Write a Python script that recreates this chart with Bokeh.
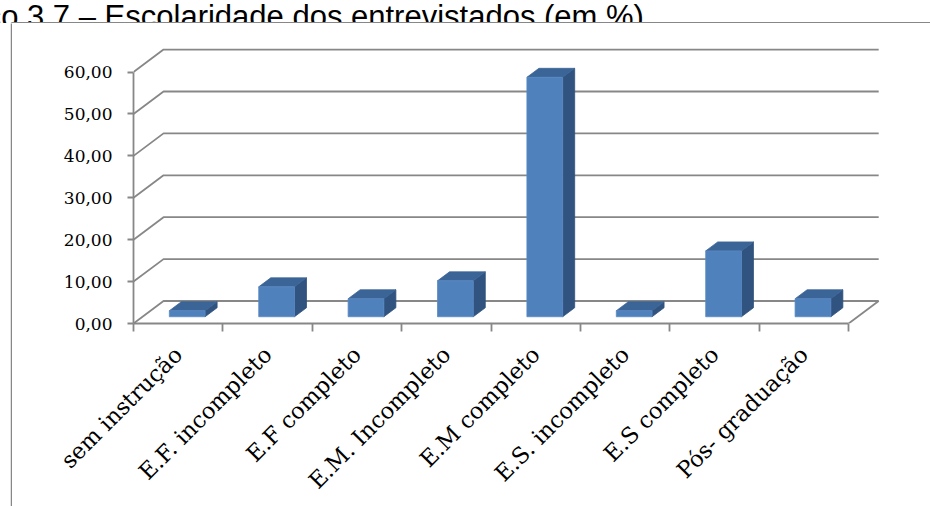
import math

from bokeh.core.properties import value
from bokeh.embed import file_html
from bokeh.layouts import column, row
from bokeh.models import FixedTicker, LinearAxis, Range1d
from bokeh.plotting import figure
from bokeh.resources import INLINE

# --- data -------------------------------------------------------------
categorias = [
    "sem instrução",
    "E.F. incompleto",
    "E.F completo",
    "E.M. Incompleto",
    "E.M completo",
    "E.S. incompleto",
    "E.S completo",
    "Pós- graduação",
]
percentuais = [1.43, 7.14, 4.29, 8.57, 57.14, 1.43, 15.71, 4.29]
marcas_y = [0, 10, 20, 30, 40, 50, 60]
rotulos_y = ["0,00", "10,00", "20,00", "30,00", "40,00", "50,00", "60,00"]
titulo = "Gráfico 3.7 – Escolaridade dos entrevistados (em %)."

# --- 3-D look: oblique projection of the depth axis (data units) ------
DX = 0.336          # depth shift along x, in category widths
DY = 5.37           # depth shift along y, in percentage points
X0, X1 = 0.3, 0.7   # bar span inside its category (gap width 150 %)
Z0, Z1 = 0.3, 0.7   # bar span along the depth axis

GRAY = "#878787"
FRONT = "#4f81bd"
TOP = "#3b6597"
SIDE = "#30537f"
SERIF = "DejaVu Serif"

W, H = 930, 506
TOP_H = 23      # strip holding the caption and the top edge of the box
LEFT_W = 12     # strip holding the left edge of the box


def strip(width, height):
    f = figure(
        width=width, height=height,
        output_backend="svg", toolbar_location=None,
        x_range=Range1d(0, width), y_range=Range1d(height, 0),
        x_axis_type=None, y_axis_type=None, min_border=0,
        frame_align=False,
    )
    f.outline_line_color = None
    f.background_fill_color = "white"
    f.border_fill_color = "white"
    return f


# caption (its upper part runs off the page) and top edge of the box
cab = strip(W, TOP_H)
cab.text(
    x=[652], y=[15.5], text=[titulo],
    text_align="right", text_baseline="alphabetic",
    text_font=value("Liberation Sans"), text_font_size="31px", text_color="black",
)
cab.multi_line(
    [[11, W + 5], [11, 11]], [[22.25, 22.25], [22.25, TOP_H + 1]],
    line_color=GRAY, line_width=1.5,
)

# left edge of the box
esq = strip(LEFT_W, H - TOP_H)
esq.line([11, 11], [-1, H], line_color=GRAY, line_width=1.5)

# --- main chart -------------------------------------------------------
n = len(categorias)
p = figure(
    width=W - LEFT_W, height=H - TOP_H,
    output_backend="svg", toolbar_location=None,
    x_range=Range1d(0, 8.58), y_range=Range1d(0, 67.54),
    x_axis_type=None, y_axis_type=None,
    min_border_left=133 - LEFT_W, min_border_right=30,
    min_border_top=40 - TOP_H, min_border_bottom=183,
    frame_align=False,
)
p.outline_line_color = None
p.background_fill_color = "white"
p.border_fill_color = "white"

# walls: side-wall diagonals and back-wall gridlines
gx, gy = [], []
for t in marcas_y:
    gx.append([0, DX, n + DX])
    gy.append([t, t + DY, t + DY])
# right edge of the floor
gx.append([n, n + DX])
gy.append([0, DY])
p.multi_line(gx, gy, line_color=GRAY, line_width=1.8)

# bars: side face, top face, front face
sx, sy, tx, ty, fx, fy = [], [], [], [], [], []
for i, v in enumerate(percentuais):
    a = i + X0
    b = i + X1
    fx.append([a + Z0 * DX, b + Z0 * DX, b + Z0 * DX, a + Z0 * DX])
    fy.append([Z0 * DY, Z0 * DY, v + Z0 * DY, v + Z0 * DY])
    tx.append([a + Z0 * DX, b + Z0 * DX, b + Z1 * DX, a + Z1 * DX])
    ty.append([v + Z0 * DY, v + Z0 * DY, v + Z1 * DY, v + Z1 * DY])
    sx.append([b + Z0 * DX, b + Z1 * DX, b + Z1 * DX, b + Z0 * DX])
    sy.append([Z0 * DY, Z1 * DY, v + Z1 * DY, v + Z0 * DY])

p.patches(sx, sy, fill_color=SIDE, line_color=SIDE, line_width=0.8)
p.patches(tx, ty, fill_color=TOP, line_color=TOP, line_width=0.8)
p.patches(fx, fy, fill_color=FRONT, line_color="#5a8ac4", line_width=0.8)

# value axis
yaxis = LinearAxis(bounds=(0, 60), ticker=FixedTicker(ticks=marcas_y, minor_ticks=[]))
yaxis.major_label_overrides = dict(zip(marcas_y, rotulos_y))
yaxis.axis_line_color = GRAY
yaxis.axis_line_width = 1.8
yaxis.major_tick_line_color = GRAY
yaxis.major_tick_line_width = 1.8
yaxis.major_tick_in = 0
yaxis.major_tick_out = 6
yaxis.minor_tick_line_color = None
yaxis.major_label_standoff = 15
yaxis.major_label_text_font = SERIF
yaxis.major_label_text_font_size = "17px"
yaxis.major_label_text_color = "black"
p.add_layout(yaxis, "left")

# category axis: ticks on category boundaries, labels on centres
centros = [i + 0.5 for i in range(n)]
xaxis = LinearAxis(
    bounds=(0, n),
    ticker=FixedTicker(ticks=centros, minor_ticks=list(range(n + 1))),
)
xaxis.major_label_overrides = dict(zip(centros, categorias))
xaxis.axis_line_color = GRAY
xaxis.axis_line_width = 1.8
xaxis.major_tick_line_color = None
xaxis.major_tick_in = 0
xaxis.major_tick_out = 0
xaxis.minor_tick_line_color = GRAY
xaxis.minor_tick_line_width = 1.8
xaxis.minor_tick_in = 0
xaxis.minor_tick_out = 8
xaxis.major_label_orientation = math.pi / 4
xaxis.major_label_standoff = 19
xaxis.major_label_text_font = SERIF
xaxis.major_label_text_font_size = "22.5px"
xaxis.major_label_text_color = "black"
p.add_layout(xaxis, "below")

pagina = column(cab, row(esq, p, spacing=0), spacing=0)
open("out.html", "w").write(file_html(pagina, INLINE))
